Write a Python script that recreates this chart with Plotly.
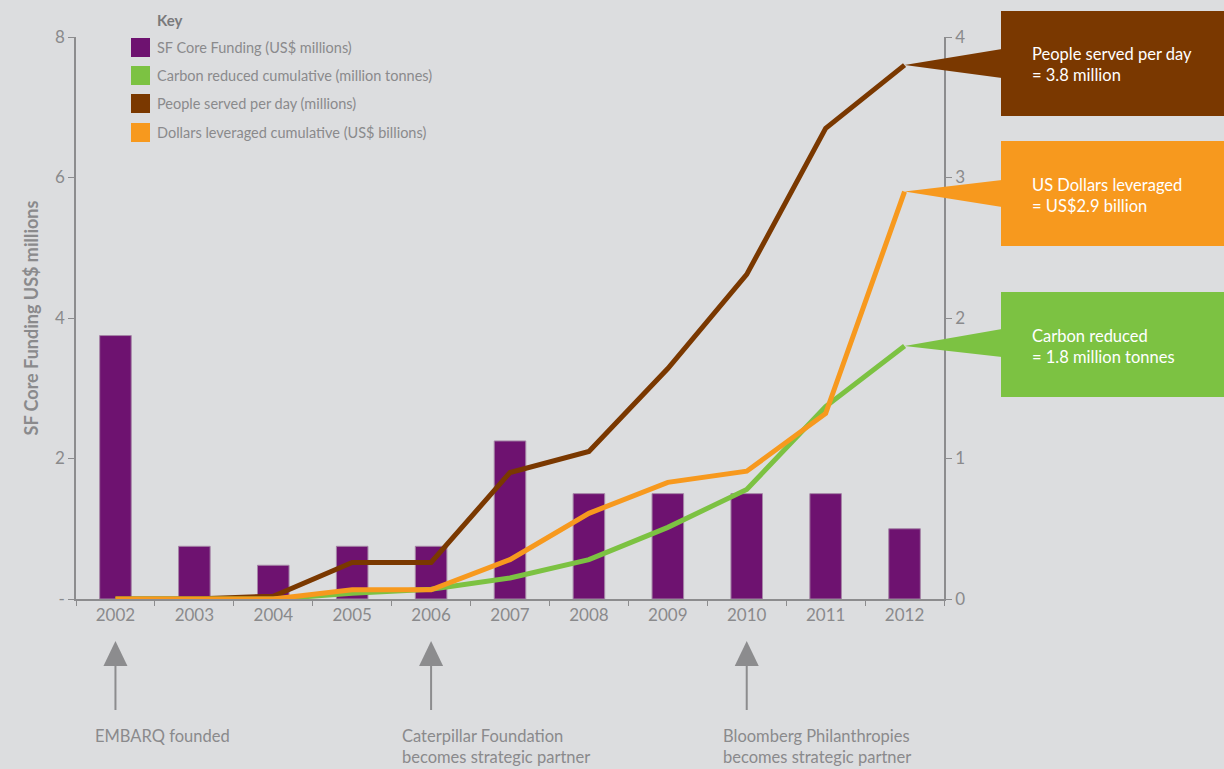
import plotly.graph_objects as go

years = ["2002", "2003", "2004", "2005", "2006", "2007", "2008", "2009", "2010", "2011", "2012"]
core_funding = [3.75, 0.75, 0.48, 0.75, 0.75, 2.25, 1.5, 1.5, 1.5, 1.5, 1.0]
people_served = [0, 0, 0.02, 0.26, 0.26, 0.9, 1.05, 1.64, 2.31, 3.35, 3.8]
carbon_reduced = [0, 0, 0, 0.04, 0.07, 0.15, 0.28, 0.51, 0.78, 1.37, 1.8]
dollars_leveraged = [0, 0, 0, 0.065, 0.065, 0.28, 0.61, 0.83, 0.91, 1.32, 2.9]

left_ticks = [0, 2, 4, 6, 8]
left_ticktext = ["-", "2", "4", "6", "8"]
right_ticks = [0, 1, 2, 3, 4]

legend_labels = ["SF Core Funding (US$ millions)", "Carbon reduced cumulative (million tonnes)",
                 "People served per day (millions)", "Dollars leveraged cumulative (US$ billions)"]
callout_lines = [["People served per day", "= 3.8 million"],
                 ["US Dollars leveraged", "= US$2.9 billion"],
                 ["Carbon reduced", "= 1.8 million tonnes"]]
events = [("2002", ["EMBARQ founded"]),
          ("2006", ["Caterpillar Foundation", "becomes strategic partner"]),
          ("2010", ["Bloomberg Philanthropies", "becomes strategic partner"])]

PURPLE = "#6e1270"
GREEN = "#7cc242"
BROWN = "#7a3800"
ORANGE = "#f7991e"
BG = "#dcdddf"
GREY = "#8a8a8c"
FONT = "Lato"

W, H = 1224, 769
ML, MR, MT, MB = 76, 280, 37, 170
PW, PH = W - ML - MR, H - MT - MB
NCAT = len(years)

def px_x(p):
    return (p - ML) / PW

def px_y(p):
    return (H - MB - p) / PH

def cat_to_paper(i):
    return (i + 0.5) / NCAT

fig = go.Figure()
fig.add_trace(go.Bar(x=years, y=core_funding, marker=dict(color=PURPLE, line=dict(color="#a585a6", width=1)),
                     width=0.4, name=legend_labels[0], showlegend=False))
fig.add_trace(go.Scatter(x=years, y=people_served, yaxis="y2", mode="lines",
                         line=dict(color=BROWN, width=5), showlegend=False, cliponaxis=False))
fig.add_trace(go.Scatter(x=years, y=carbon_reduced, yaxis="y2", mode="lines",
                         line=dict(color=GREEN, width=5), showlegend=False, cliponaxis=False))
fig.add_trace(go.Scatter(x=years, y=dollars_leveraged, yaxis="y2", mode="lines",
                         line=dict(color=ORANGE, width=5), showlegend=False, cliponaxis=False))

shapes = []
annotations = []

# Key
annotations.append(dict(x=px_x(155), y=px_y(20), xref="paper", yref="paper", text="Key",
                        showarrow=False, xanchor="left", yanchor="middle",
                        font=dict(family=FONT, size=15, color="#7a7a7c", weight="bold")))
key_colors = [PURPLE, GREEN, BROWN, ORANGE]
key_tops = [38, 66, 94, 123]
for lab, col, top in zip(legend_labels, key_colors, key_tops):
    shapes.append(dict(type="rect", xref="paper", yref="paper", x0=px_x(131), x1=px_x(150),
                       y0=px_y(top + 19), y1=px_y(top), fillcolor=col, line=dict(width=0), layer="above"))
    annotations.append(dict(x=px_x(155), y=px_y(top + 9.5), xref="paper", yref="paper", text=lab,
                            showarrow=False, xanchor="left", yanchor="middle",
                            font=dict(family=FONT, size=14.5, color=GREY)))

# Callouts
box_tops = [11, 141, 292]
box_cols = [BROWN, ORANGE, GREEN]
series_end = [people_served[-1], dollars_leveraged[-1], carbon_reduced[-1]]
edge_offsets = [(38, 67), (39, 66), (37, 65)]
for lines, top, col, yv, (e0, e1) in zip(callout_lines, box_tops, box_cols, series_end, edge_offsets):
    shapes.append(dict(type="rect", xref="paper", yref="paper", x0=px_x(1001), x1=px_x(1226),
                       y0=px_y(top + 105), y1=px_y(top), fillcolor=col, line=dict(width=0)))
    xt = cat_to_paper(NCAT - 1)
    yt = yv / 4.0
    xe = px_x(1002)
    path = f"M {xt},{yt} L {xe},{px_y(top + e0)} L {xe},{px_y(top + e1)} Z"
    shapes.append(dict(type="path", xref="paper", yref="paper", path=path, fillcolor=col, line=dict(width=0)))
    annotations.append(dict(x=px_x(1030), y=px_y(top + 54), xref="paper", yref="paper",
                            text="<br>".join(lines), showarrow=False, xanchor="left", yanchor="middle",
                            align="left", font=dict(family=FONT, size=16.5, color="white")))

# Event arrows
text_x = [93, 400, 721]
for (yr, lines), tx in zip(events, text_x):
    xi = years.index(yr)
    hw = 12 / PW * NCAT
    shapes.append(dict(type="line", xref="x", yref="paper", x0=xi, x1=xi, y0=px_y(710), y1=px_y(662),
                       line=dict(color="#8c8c8e", width=2)))
    shapes.append(dict(type="path", xref="x", yref="paper",
                       path=f"M {xi - hw},{px_y(666)} L {xi},{px_y(641)} L {xi + hw},{px_y(666)} Z",
                       fillcolor="#8c8c8e", line=dict(width=0)))
    annotations.append(dict(x=px_x(tx), y=px_y(724), xref="paper", yref="paper",
                            text="<br>".join(lines), showarrow=False, xanchor="left", yanchor="top",
                            align="left", font=dict(family=FONT, size=16.5, color=GREY)))

fig.update_layout(
    width=W, height=H,
    margin=dict(l=ML, r=MR, t=MT, b=MB),
    paper_bgcolor=BG, plot_bgcolor=BG,
    showlegend=False,
    shapes=shapes, annotations=annotations,
    xaxis=dict(type="category", range=[-0.5, 10.5], tickson="boundaries", ticks="outside", ticklen=5,
               tickcolor="#8c8c8e", showline=True, linecolor="#8c8c8e", linewidth=1.5, showgrid=False,
               tickfont=dict(family=FONT, size=17, color=GREY), fixedrange=True, zeroline=False),
    yaxis=dict(range=[0, 8], tickvals=left_ticks, ticktext=left_ticktext, ticks="outside", ticklen=6,
               tickcolor="#8c8c8e", showline=True, linecolor="#8c8c8e", linewidth=1.5, showgrid=False,
               zeroline=False, tickfont=dict(family=FONT, size=17, color=GREY),
               title=dict(text="SF Core Funding US$ millions", standoff=12,
                          font=dict(family=FONT, size=18, color=GREY, weight="bold"))),
    yaxis2=dict(range=[0, 4], tickvals=right_ticks, overlaying="y", side="right", ticks="outside", ticklen=6,
                tickcolor="#8c8c8e", showline=True, linecolor="#8c8c8e", linewidth=1.5, showgrid=False,
                zeroline=False, tickfont=dict(family=FONT, size=17, color=GREY)),
)

fig.write_html("out.html")
